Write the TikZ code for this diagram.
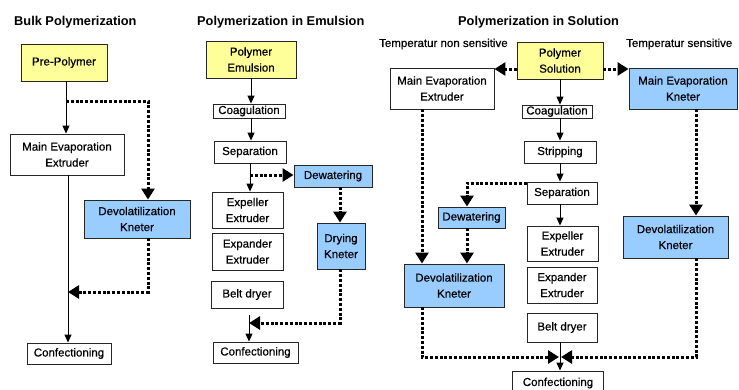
\documentclass[tikz,border=0pt]{standalone}
\usepackage{fontspec}
\setmainfont{Liberation Sans}
\newfontfamily\boxfont{Liberation Sans}[FakeBold=0.5]
\usetikzlibrary{arrows.meta}
\definecolor{ylw}{HTML}{FFFF99}
\definecolor{blu}{HTML}{99CCFF}
\begin{document}
\begin{tikzpicture}[x=1pt,y=-1pt,
  box/.style={draw=black!85, line width=0.9pt, inner sep=0pt, align=center, fill=white,
    font=\boxfont\fontsize{11.5}{16}\selectfont},
  yb/.style={box, fill=ylw},
  bb/.style={box, fill=blu},
  ttl/.style={anchor=west, inner sep=0pt, font=\bfseries\fontsize{12.8}{14}\selectfont},
  lbl/.style={anchor=west, inner sep=0pt, font=\boxfont\fontsize{11.5}{14}\selectfont},
  sarr/.style={line width=0.9pt, -{Triangle[length=8pt,width=7pt]}},
  darr/.style={line width=3pt, dash pattern=on 3pt off 1.8pt, -{Triangle[length=11pt,width=13pt]}}]
\useasboundingbox (0,0) rectangle (739,389);
\fill[white] (0,0) rectangle (739,389);
\begin{scope}
\clip (0,0) rectangle (739,389);
% ---------- Bulk ----------
\node[ttl] (t1) at (14,22) {Bulk Polymerization};
\node[yb, minimum width=86pt, minimum height=37pt] (pp) at (64,62.5) {Pre-Polymer};
\node[box, minimum width=114pt, minimum height=41pt] (mee1) at (67,154.5) {Main Evaporation\\Extruder};
\node[bb, minimum width=106pt, minimum height=38pt] (dk1) at (137,219) {Devolatilization\\Kneter};
\node[box, minimum width=84pt, minimum height=21pt] (conf1) at (69,353.5) {Confectioning};
\coordinate (bx1) at (66,101);
\coordinate (bx2) at (148,101);
\coordinate (bx3) at (68,292);
\coordinate (bx4) at (148,292);
\draw[sarr] (pp.south -| bx1) -- (mee1.north -| bx1);
\draw[sarr] (mee1.south -| bx3) -- (conf1.north -| bx3);
\draw[darr] (bx1) -- (bx2) -- (dk1.north -| bx2);
\draw[darr] (dk1.south -| bx4) -- (bx4) -- (bx3);
% ---------- Emulsion ----------
\node[ttl] (t2) at (197,22) {Polymerization in Emulsion};
\node[yb, minimum width=90pt, minimum height=37pt] (pe) at (251,59.5) {Polymer\\Emulsion};
\node[box, minimum width=72pt, minimum height=14pt] (coag2) at (249,111) {Coagulation};
\node[box, minimum width=72pt, minimum height=22pt] (sep2) at (250,152) {Separation};
\node[bb, minimum width=78pt, minimum height=22pt] (dew2) at (333,176) {Dewatering};
\node[bb, minimum width=48pt, minimum height=46pt] (dry2) at (341,246) {Drying\\Kneter};
\node[box, minimum width=71pt, minimum height=36pt] (expe2) at (247.5,210) {Expeller\\Extruder};
\node[box, minimum width=71pt, minimum height=37pt] (expa2) at (247.5,251.5) {Expander\\Extruder};
\node[box, minimum width=72pt, minimum height=27pt] (belt2) at (247,294.5) {Belt dryer};
\node[box, minimum width=85pt, minimum height=21pt] (conf2) at (255.5,352.5) {Confectioning};
\coordinate (ex1) at (251,0);
\coordinate (ex2) at (250,175);
\coordinate (ex3) at (340,0);
\coordinate (ex4) at (340,323);
\coordinate (ex5) at (249,323);
\coordinate (ex6) at (249,315);
\draw[sarr] (pe.south -| ex1) -- (coag2.north -| ex1);
\draw[sarr] (coag2.south -| ex1) -- (sep2.north -| ex1);
\draw[sarr] (sep2.south -| ex2) -- (expe2.north -| ex2);
\draw[darr] (ex2) -- (dew2.west |- ex2);
\draw[darr] (dew2.south -| ex3) -- (dry2.north -| ex3);
\draw[darr] (dry2.south -| ex3) -- (ex4) -- (ex5);
\draw[sarr] (ex6) -- (conf2.north -| ex6);
% ---------- Solution ----------
\node[ttl] (t3) at (458,22) {Polymerization in Solution};
\node[lbl] (tns) at (379,44) {Temperatur non sensitive};
\node[lbl] (ts) at (626,44) {Temperatur sensitive};
\node[yb, minimum width=86pt, minimum height=37pt] (ps) at (560,60.5) {Polymer\\Solution};
\node[box, minimum width=104pt, minimum height=41pt] (mee3) at (442,88.5) {Main Evaporation\\Extruder};
\node[bb, minimum width=108pt, minimum height=41pt] (mek3) at (683,88.5) {Main Evaporation\\Kneter};
\node[box, minimum width=70pt, minimum height=13pt] (coag3) at (557,111.5) {Coagulation};
\node[box, minimum width=72pt, minimum height=22pt] (strip3) at (560,152) {Stripping};
\node[box, minimum width=70pt, minimum height=22pt] (sep3) at (562,193) {Separation};
\node[box, minimum width=71pt, minimum height=35pt] (expe3) at (562.5,243.5) {Expeller\\Extruder};
\node[box, minimum width=70pt, minimum height=36pt] (expa3) at (562,285) {Expander\\Extruder};
\node[box, minimum width=70pt, minimum height=29pt] (belt3) at (562,327.5) {Belt dryer};
\node[box, minimum width=91pt, minimum height=24pt] (conf3) at (558,383) {Confectioning};
\node[bb, minimum width=67pt, minimum height=21pt] (dew3) at (471.5,217.5) {Dewatering};
\node[bb, minimum width=100pt, minimum height=43pt] (dk3) at (454,285.5) {Devolatilization\\Kneter};
\node[bb, minimum width=105pt, minimum height=42pt] (dk3r) at (675.5,237) {Devolatilization\\Kneter};
\coordinate (sx) at (560,0);
\coordinate (sy) at (0,69);
\coordinate (sa) at (467,183);
\coordinate (sb) at (422,357);
\coordinate (sc) at (696,357);
\coordinate (sm) at (559,357);
\coordinate (sn) at (561,357);
\draw[sarr] (ps.south -| sx) -- (coag3.north -| sx);
\draw[sarr] (coag3.south -| sx) -- (strip3.north -| sx);
\draw[sarr] (strip3.south -| sx) -- (sep3.north -| sx);
\draw[sarr] (sep3.south -| sx) -- (expe3.north -| sx);
\draw[sarr] (belt3.south -| sx) -- (conf3.north -| sx);
\draw[darr] (ps.west |- sy) -- (mee3.east |- sy);
\draw[darr] (ps.east |- sy) -- (mek3.west |- sy);
\draw[darr] (sep3.west |- sa) -- (sa) -- (dew3.north -| sa);
\draw[darr] (dew3.south -| sa) -- (dk3.north -| sa);
\draw[darr] (mee3.south -| sb) -- (dk3.north -| sb);
\draw[darr] (dk3.south -| sb) -- (sb) -- (sm);
\draw[darr] (mek3.south -| sc) -- (dk3r.north -| sc);
\draw[darr] (dk3r.south -| sc) -- (sc) -- (sn);
\end{scope}
\end{tikzpicture}
\end{document}
